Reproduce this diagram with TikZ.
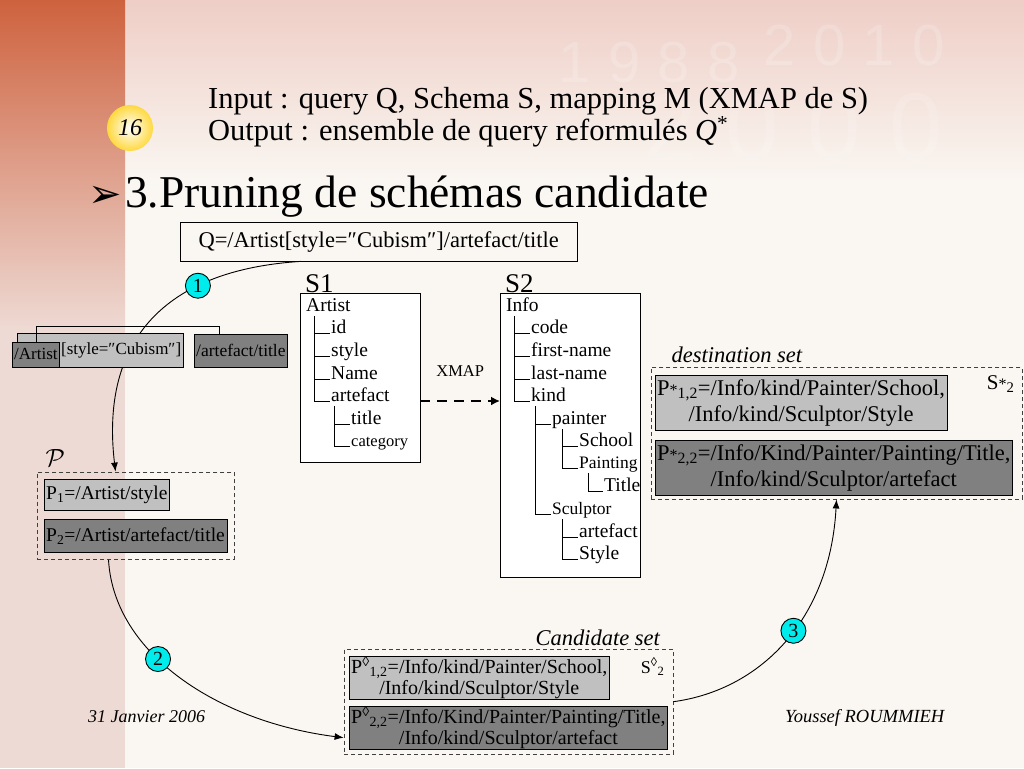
\documentclass[tikz,border=0pt]{standalone}
\usepackage{fontspec}
\setmainfont{Liberation Serif}
\newfontfamily\arrowfont{DejaVu Sans}
\newfontfamily\markfont[LetterSpace=30]{Liberation Sans}
\usetikzlibrary{arrows.meta,fit,positioning}

\definecolor{slidebg}{RGB}{250,246,241}
\definecolor{bandpink}{RGB}{238,206,198}
\definecolor{stripred}{RGB}{206,98,62}
\definecolor{strippink}{RGB}{238,218,212}
\definecolor{lightbox}{RGB}{192,192,192}
\definecolor{darkbox}{RGB}{128,128,128}
\definecolor{stepcyan}{RGB}{0,236,236}

\newcommand{\pxsize}[1]{\fontsize{#1}{#1}\selectfont}

\tikzset{
  lbox/.style={draw=black, fill=lightbox, anchor=north west, inner xsep=2pt, inner ysep=4pt},
  dbox/.style={draw=black, fill=darkbox, anchor=north west, inner xsep=2pt, inner ysep=4pt},
  setbox/.style={draw=black!75, dash pattern=on 4pt off 3pt, line width=0.8pt},
  stepnum/.style={circle, draw=black, fill=stepcyan, inner sep=0pt, minimum size=25pt, font=\pxsize{20}},
  item/.style={anchor=base west, inner xsep=1pt, inner ysep=0pt, text height=13pt, text depth=5pt, font=\pxsize{19.5}},
  branch/.style={line width=0.8pt},
  schemabox/.style={draw=black, fill=white, anchor=north west, inner sep=0pt},
  flow/.style={-{Latex[length=9pt,width=7pt]}, line width=0.9pt}
}

\begin{document}
\begin{tikzpicture}[x=1pt, y=-1pt]
  \useasboundingbox (0,0) rectangle (1024,768);

  % slide background
  \fill[slidebg] (0,0) rectangle (1024,768);
  \shade[top color=bandpink, bottom color=slidebg] (0,0) rectangle (1024,180);
  \fill[strippink] (0,0) rectangle (125,768);
  \shade[top color=stripred, bottom color=strippink] (0,0) rectangle (125,330);
  \node[font=\pxsize{58}\markfont, text=white, opacity=.18, anchor=base west] at (555,82) {1988};
  \node[font=\pxsize{58}\markfont, text=white, opacity=.18, anchor=base west] at (760,66) {2010};
  \node[font=\pxsize{96}\markfont, text=white, opacity=.14, anchor=base west] at (640,160) {2000};

  % header
  \node[circle, minimum size=46pt, inner color=white, outer color=orange!40!yellow!75, font=\pxsize{24}\itshape] (page) at (130,128) {16};
  \node[anchor=base west, inner sep=0pt, font=\pxsize{30.5}] (input) at (208,108) {Input : query Q, Schema S, mapping M (XMAP de S)};
  \node[anchor=base west, inner sep=0pt, font=\pxsize{30.5}] (output) at (208,140) {Output : ensemble de query reformulés \textit{Q}\textsuperscript{*}};
  \node[anchor=base west, font=\pxsize{40}\arrowfont, inner sep=0pt] (bullet) at (88,207) {➢};
  \node[anchor=base west, font=\pxsize{45.5}, inner sep=0pt] (title) at (125,207) {3.Pruning de schémas candidate};

  % query
  \node[draw=black, anchor=north west, minimum height=39pt, minimum width=397pt, font=\pxsize{22.5}] (q) at (180,222) {Q=/Artist[style=″Cubism″]/artefact/title};

  % path set P
  \node[lbox, minimum height=31pt, inner ysep=0pt, font=\pxsize{19.5}] (p1) at (44,479) {P\textsubscript{1}=/Artist/style};
  \node[dbox, minimum height=33pt, inner ysep=0pt, font=\pxsize{19.5}] (p2) at (44,519) {P\textsubscript{2}=/Artist/artefact/title};
  \node[setbox, fit=(p1)(p2), inner sep=7pt] (pset) {};
  \node[anchor=base west, font=\pxsize{24}] (plabel) at (42,466) {$\mathcal{P}$};

  % step 1
  \draw[flow] ([xshift=-78pt]q.south) .. controls (165,270) and (100,340) .. ([xshift=-20pt]pset.north)
    node[stepnum, pos=0.3] (n1) {1};

  % decomposed query
  \node[lbox, minimum height=34pt, inner ysep=0pt, text width=162pt, align=right, font=\pxsize{17}] (qstyle) at (17,333) {[style=″Cubism″]};
  \node[dbox, anchor=south west, minimum height=25pt, inner ysep=0pt, font=\pxsize{17}] (qartist) at (12,367) {/Artist};
  \node[dbox, minimum height=33pt, inner ysep=0pt, font=\pxsize{17.5}] (qtitle) at (194,334) {/artefact/title};
  \draw[branch] (qartist.north) -- ++(0,-15) -| ([xshift=25pt]qtitle.north west);

  % schema S1
  \node[anchor=base west, font=\pxsize{27}, inner sep=0pt] (s1label) at (305,292) {S1};
  \node[schemabox, minimum width=120pt, minimum height=169pt] (s1) at (300,293) {};
  \node[item] (a0) at (305,311) {Artist};
  \node[item] (a1) at (330,333) {id};
  \node[item] (a2) at (330,356) {style};
  \node[item] (a3) at (330,379) {Name};
  \node[item] (a4) at (330,401) {artefact};
  \node[item] (a5) at (350,424) {title};
  \node[item, font=\pxsize{16.5}] (a6) at (350,446) {category};
  \foreach \p/\c/\d in {a0/a1/9, a0/a2/9, a0/a3/9, a0/a4/9, a4/a5/4, a4/a6/4}
    \draw[branch] ([xshift=\d pt]\p.south west) |- (\c.base west);

  % schema S2
  \node[anchor=base west, font=\pxsize{27}, inner sep=0pt] (s2label) at (505,292) {S2};
  \node[schemabox, minimum width=140pt, minimum height=284pt] (s2) at (500,293) {};
  \node[item] (b0) at (505,311) {Info};
  \node[item] (b1) at (530,333) {code};
  \node[item] (b2) at (530,356) {first-name};
  \node[item] (b3) at (530,379) {last-name};
  \node[item] (b4) at (530,401) {kind};
  \node[item] (b5) at (551,424) {painter};
  \node[item] (b6) at (578,446) {School};
  \node[item, font=\pxsize{17.5}] (b7) at (578,468) {Painting};
  \node[item] (b8) at (603,491) {Title};
  \node[item, font=\pxsize{17.5}] (b9) at (551,514) {Sculptor};
  \node[item] (b10) at (578,537) {artefact};
  \node[item] (b11) at (578,559) {Style};
  \foreach \p/\c/\d in {b0/b1/9, b0/b2/9, b0/b3/9, b0/b4/9, b4/b5/5, b4/b9/5,
                        b5/b6/11, b5/b7/11, b7/b8/10, b9/b10/11, b9/b11/11}
    \draw[branch] ([xshift=\d pt]\p.south west) |- (\c.base west);

  % mapping
  \draw[-{Latex[length=9pt,width=9pt]}, line width=2.5pt, dash pattern=on 10pt off 7pt]
    (s1.east |- a4.base) -- (s2.west |- a4.base) node[midway, above=20pt, font=\pxsize{16.5}] (xmap) {XMAP};

  % destination set
  \node[lbox, inner ysep=4pt, align=center, font=\fontsize{22.5}{26}\selectfont] (d1) at (655,375)
    {P{\pxsize{16}*}\textsubscript{1,2}=/Info/kind/Painter/School,\\/Info/kind/Sculptor/Style};
  \node[dbox, inner ysep=4pt, align=center, font=\fontsize{22.5}{26}\selectfont] (d2) at (655,440)
    {P{\pxsize{16}*}\textsubscript{2,2}=/Info/Kind/Painter/Painting/Title,\\/Info/kind/Sculptor/artefact};
  \node[anchor=base east, font=\pxsize{21}] (ds) at (1018,389) {S{\pxsize{16}*}\textsubscript{2}};
  \node[setbox, fit=(d1)(d2)(ds), inner sep=4pt] (dset) {};
  \node[anchor=base west, font=\pxsize{22.5}\itshape] (dlabel) at (668,362) {destination set};

  % candidate set
  \node[lbox, inner ysep=0pt, align=center, font=\fontsize{20}{21}\selectfont] (c1) at (349,656)
    {P\textsuperscript{◊}\textsubscript{1,2}=/Info/kind/Painter/School,\\/Info/kind/Sculptor/Style};
  \node[dbox, inner ysep=0pt, align=center, font=\fontsize{20}{21}\selectfont] (c2) at (349,706)
    {P\textsuperscript{◊}\textsubscript{2,2}=/Info/Kind/Painter/Painting/Title,\\/Info/kind/Sculptor/artefact};
  \node[anchor=base east, font=\pxsize{18}] (cs) at (668,673) {S\textsuperscript{◊}\textsubscript{2}};
  \node[setbox, fit=(c1)(c2)(cs), inner sep=5pt] (cset) {};
  \node[anchor=base west, font=\pxsize{22.5}\itshape] (clabel) at (532,645) {Candidate set};

  % steps 2 and 3
  \draw[flow] ([xshift=-27pt]pset.south) .. controls (114,655) and (220,722) .. ([yshift=-36pt]cset.west)
    node[stepnum, pos=0.4] (n2) {2};
  \draw[flow] (cset.east) .. controls (760,690) and (830,620) .. (dset.south)
    node[stepnum, pos=0.55] (n3) {3};

  % footer
  \node[anchor=base west, inner sep=0pt, font=\pxsize{18}\itshape] (date) at (88,722) {31 Janvier 2006};
  \node[anchor=base west, inner sep=0pt, font=\pxsize{18.5}\itshape] (author) at (785,722) {Youssef ROUMMIEH};
\end{tikzpicture}
\end{document}
